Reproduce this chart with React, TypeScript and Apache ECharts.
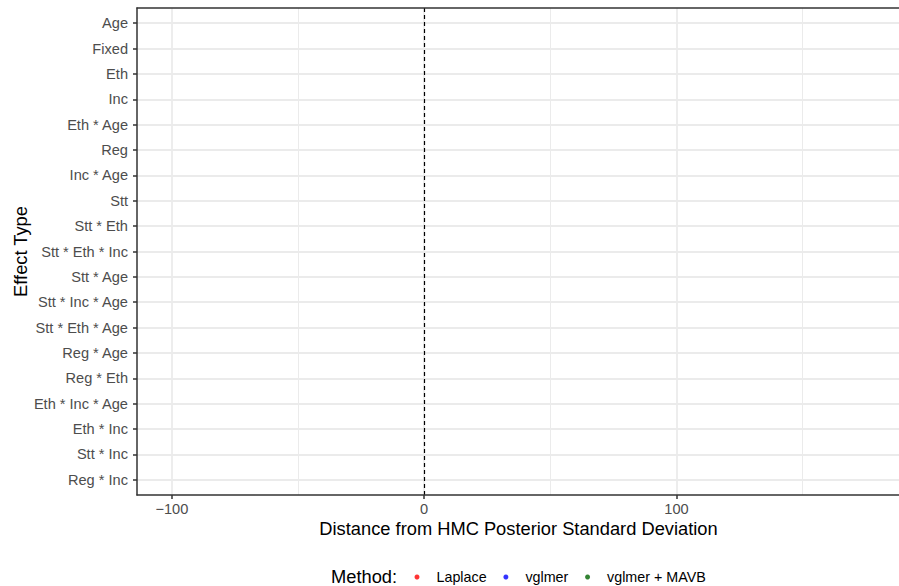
import React, { useEffect, useRef } from "react";
import * as echarts from "echarts";

// Effect types, top to bottom
const categories = [
  "Age",
  "Fixed",
  "Eth",
  "Inc",
  "Eth * Age",
  "Reg",
  "Inc * Age",
  "Stt",
  "Stt * Eth",
  "Stt * Eth * Inc",
  "Stt * Age",
  "Stt * Inc * Age",
  "Stt * Eth * Age",
  "Reg * Age",
  "Reg * Eth",
  "Eth * Inc * Age",
  "Eth * Inc",
  "Stt * Inc",
  "Reg * Inc",
];

// Methods (legend) — no points are visible in the panel
const methods = ["Laplace", "vglmer", "vglmer + MAVB"];
const methodColors = ["#FF0000", "#0000FF", "#006400"];
const laplaceValues: [number, number][] = [];
const vglmerValues: [number, number][] = [];
const mavbValues: [number, number][] = [];

// Axis ticks
const xMajorTicks = [-100, 0, 100];
const xMinorTicks = [-50, 50, 150];
const xMin = -113.8;
const xMax = 188.6;
const referenceLine = 0;

const FONT = "Liberation Sans, Arial, Helvetica, sans-serif";
const GRID_COLOR = "#EBEBEB";
const AXIS_COLOR = "#333333";

export default function App() {
  const ref = useRef<HTMLDivElement>(null);

  useEffect(() => {
    if (!ref.current) return;
    const chart = echarts.init(ref.current, undefined, { renderer: "svg" });
    const catIdx = categories.map((_, i) => i);

    const gridLines: any[] = [];
    xMinorTicks.forEach((v) =>
      gridLines.push({ xAxis: v, lineStyle: { color: GRID_COLOR, width: 1, type: "solid" } })
    );
    xMajorTicks.forEach((v) =>
      gridLines.push({ xAxis: v, lineStyle: { color: GRID_COLOR, width: 1.8, type: "solid" } })
    );
    catIdx.forEach((i) =>
      gridLines.push({ yAxis: i, lineStyle: { color: GRID_COLOR, width: 1.8, type: "solid" } })
    );
    gridLines.push({
      xAxis: referenceLine,
      lineStyle: { color: "#000000", width: 1.2, type: [4, 3] },
    });

    const seriesData = [laplaceValues, vglmerValues, mavbValues];

    chart.setOption({
      animation: false,
      backgroundColor: "#ffffff",
      textStyle: { fontFamily: FONT },
      grid: {
        left: 137,
        top: 8,
        width: 763,
        height: 487,
        containLabel: false,
        outerBoundsMode: "none",
      },
      xAxis: [
        {
          type: "value",
          min: xMin,
          max: xMax,
          position: "bottom",
          z: 5,
          axisLine: { show: true, onZero: false, lineStyle: { color: AXIS_COLOR, width: 1.5 } },
          axisTick: {
            show: true,
            customValues: xMajorTicks,
            length: 4,
            lineStyle: { color: AXIS_COLOR, width: 1.5 },
          },
          axisLabel: {
            customValues: xMajorTicks,
            formatter: (v: number) => (v < 0 ? "\u2212" + Math.abs(v) : String(v)),
            color: "#4D4D4D",
            fontSize: 14.6,
            fontFamily: FONT,
            margin: 6,
          },
          splitLine: { show: false },
          name: "Distance from HMC Posterior Standard Deviation",
          nameLocation: "middle",
          nameGap: 24,
          nameMoveOverlap: false,
          nameTextStyle: { fontSize: 18.3, color: "#000000", fontFamily: FONT },
        },
        {
          type: "value",
          min: xMin,
          max: xMax,
          position: "top",
          z: 5,
          axisLine: { show: true, onZero: false, lineStyle: { color: AXIS_COLOR, width: 1.5 } },
          axisTick: { show: false },
          axisLabel: { show: false },
          splitLine: { show: false },
        },
      ],
      yAxis: {
        type: "value",
        inverse: true,
        min: -0.6,
        max: 18.6,
        z: 5,
        axisLine: { show: true, onZero: false, lineStyle: { color: AXIS_COLOR, width: 1.5 } },
        axisTick: {
          show: true,
          customValues: catIdx,
          length: 4,
          lineStyle: { color: AXIS_COLOR, width: 1.5 },
        },
        axisLabel: {
          customValues: catIdx,
          formatter: (v: number) => categories[Math.round(v)] ?? "",
          color: "#4D4D4D",
          fontSize: 14.6,
          fontFamily: FONT,
          margin: 9,
        },
        splitLine: { show: false },
        name: "Effect Type",
        nameLocation: "middle",
        nameRotate: 90,
        nameGap: 108,
        nameMoveOverlap: false,
        nameTextStyle: { fontSize: 18.3, color: "#000000", fontFamily: FONT },
      },
      legend: {
        data: methods,
        left: 414.5,
        top: 569,
        padding: 0,
        icon: "circle",
        itemWidth: 5,
        itemHeight: 5,
        itemGap: 16.8,
        textStyle: {
          fontSize: 14.3,
          color: "#000000",
          fontFamily: FONT,
          lineHeight: 16,
          padding: [0, 0, 0, 12],
        },
      },
      graphic: [
        {
          type: "text",
          left: 331,
          top: 567,
          style: {
            text: "Method:",
            fontSize: 18.3,
            fontFamily: FONT,
            fill: "#000000",
          },
        },
      ],
      series: [
        {
          name: "_grid",
          type: "line",
          data: [],
          z: 1,
          silent: true,
          markLine: {
            silent: true,
            symbol: ["none", "none"],
            label: { show: false },
            animation: false,
            data: gridLines,
          },
        },
        ...methods.map((m, i) => ({
          name: m,
          type: "scatter",
          data: seriesData[i],
          symbolSize: 5,
          z: 4,
          itemStyle: { color: methodColors[i] },
        })),
      ],
    });

    return () => chart.dispose();
  }, []);

  return (
    <div
      ref={ref}
      style={{ position: "absolute", left: 0, top: 0, width: 899, height: 586 }}
    />
  );
}
